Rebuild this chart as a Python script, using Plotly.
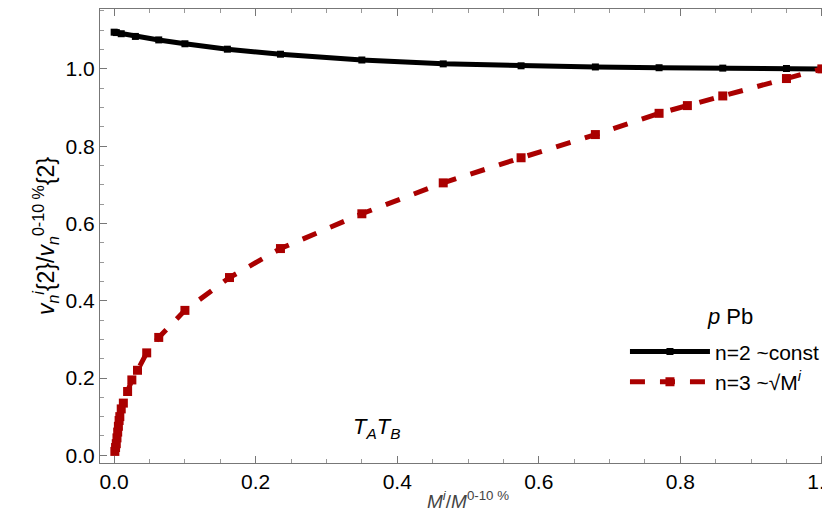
import plotly.graph_objects as go

m_n2 = [0.0, 0.003, 0.01, 0.03, 0.063, 0.10, 0.16, 0.235, 0.35, 0.465, 0.575, 0.68, 0.77, 0.86, 0.95, 1.0]
v_n2 = [1.095, 1.094, 1.091, 1.084, 1.075, 1.065, 1.051, 1.038, 1.023, 1.013, 1.008, 1.005, 1.003, 1.002, 1.001, 1.0]

m_n3 = [0.001, 0.002, 0.003, 0.004, 0.005, 0.006, 0.007, 0.008, 0.010, 0.013, 0.019, 0.025, 0.033, 0.046,
        0.063, 0.10, 0.163, 0.235, 0.35, 0.465, 0.575, 0.68, 0.77, 0.81, 0.86, 0.95, 1.0]
v_n3 = [0.01, 0.02, 0.03, 0.045, 0.06, 0.075, 0.09, 0.10, 0.12, 0.135, 0.165, 0.195, 0.22, 0.265,
        0.305, 0.375, 0.46, 0.535, 0.625, 0.705, 0.77, 0.83, 0.885, 0.905, 0.93, 0.975, 1.0]

red = "#aa0000"
fnt = "Liberation Sans, Arial, sans-serif"
fig = go.Figure()
fig.add_trace(go.Scatter(x=m_n2, y=v_n2, mode="lines+markers", name="n=2 ~const",
                         line=dict(color="black", width=5),
                         marker=dict(symbol="square", size=7, color="black")))
fig.add_trace(go.Scatter(x=m_n3, y=v_n3, mode="lines+markers", name="n=3 ~√M<sup><i>i</i></sup>",
                         line=dict(color=red, width=5, dash="dash"),
                         marker=dict(symbol="square", size=9, color=red)))

ticks = [0, 0.2, 0.4, 0.6, 0.8, 1.0]
labels = ["0.0", "0.2", "0.4", "0.6", "0.8", "1.0"]
for upd in (fig.update_xaxes, fig.update_yaxes):
    upd(showline=True, linecolor="#777", mirror="ticks", ticks="inside", ticklen=7,
        tickcolor="#777", showgrid=False, zeroline=False, tickvals=ticks, ticktext=labels,
        tickfont=dict(size=21, color="black", family=fnt),
        minor=dict(ticks="inside", ticklen=4, tickcolor="#999"))
fig.update_xaxes(range=[-0.02, 1.02],
                 title=dict(text="<i>M<sup>i</sup></i>/<i>M</i><sup>0-10 %</sup>", standoff=2,
                            font=dict(size=19, color="#444", family=fnt)))
fig.update_yaxes(range=[-0.02, 1.155],
                 title=dict(text="<i>v<sub>n</sub><sup>i</sup></i>{2}/<i>v<sub>n</sub></i><sup>0-10 %</sup>{2}",
                            standoff=4, font=dict(size=23, color="black", family=fnt)))

fig.add_annotation(x=0.87, y=0.36, xref="x", yref="y", showarrow=False,
                   text="<i>p</i> Pb", font=dict(size=22, color="black", family=fnt))
fig.add_annotation(x=0.37, y=0.07, xref="x", yref="y", showarrow=False,
                   text="<i>T<sub>A</sub>T<sub>B</sub></i>", font=dict(size=22, color="black", family=fnt))

fig.update_layout(width=830, height=528, plot_bgcolor="white", paper_bgcolor="white",
                  font=dict(family=fnt, size=21, color="black"),
                  margin=dict(l=92, r=2, t=1, b=73),
                  legend=dict(x=0.985, y=0.29, xanchor="right", yanchor="top", bgcolor="rgba(0,0,0,0)",
                              font=dict(size=21, color="black", family=fnt),
                              itemwidth=80, tracegroupgap=12))

fig.write_html("out.html")
